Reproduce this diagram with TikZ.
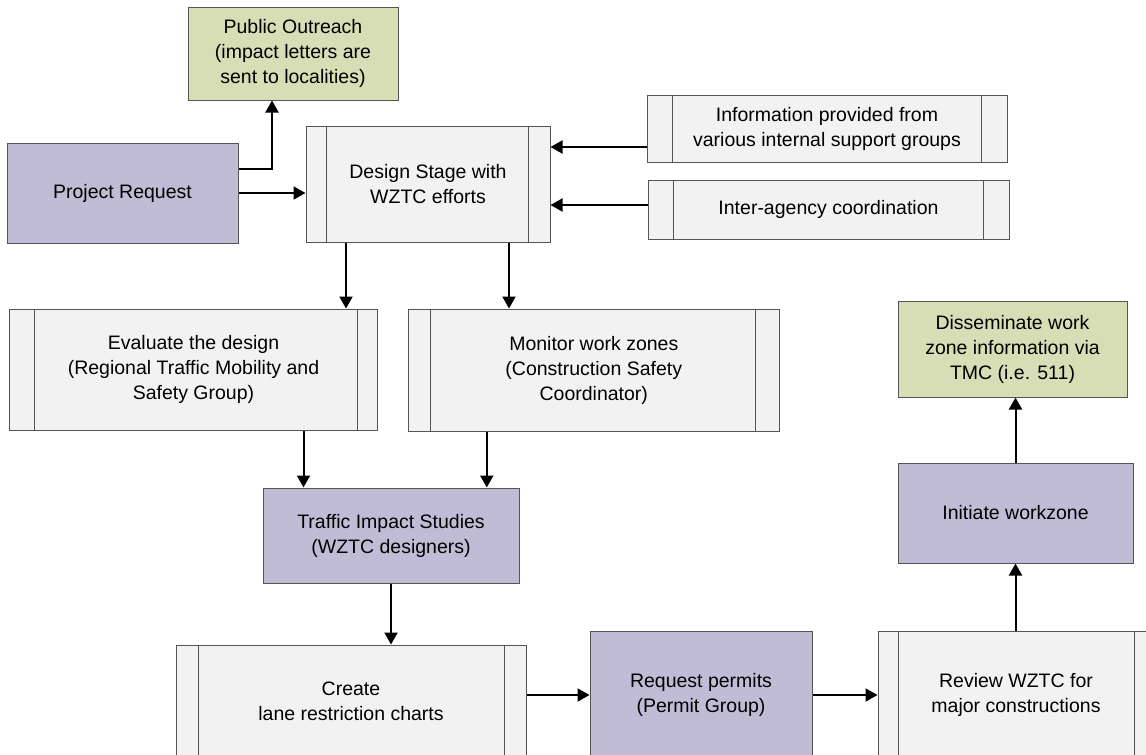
\documentclass[tikz,border=0pt]{standalone}
\usepackage{fontspec}
\setmainfont{Liberation Sans}
\usetikzlibrary{arrows.meta}
\definecolor{lav}{RGB}{192,188,214}
\definecolor{olive}{RGB}{215,222,182}
\definecolor{pale}{RGB}{242,242,242}
\definecolor{edge}{RGB}{85,85,85}
\tikzset{
  box/.style={draw=edge, line width=1pt, align=center, inner sep=0pt,
    font=\fontsize{19.5}{25}\selectfont},
  lavbox/.style={box, fill=lav},
  greenbox/.style={box, fill=olive},
  procbox/.style 2 args={box, fill=pale, path picture={
    \draw[edge, line width=1pt]
      ([xshift=#1]path picture bounding box.north west) -- ([xshift=#1]path picture bounding box.south west)
      ([xshift=-#2]path picture bounding box.north east) -- ([xshift=-#2]path picture bounding box.south east);}},
  flow/.style={line width=2pt, -{Triangle[length=12pt,width=13pt]}},
}
\begin{document}
\begin{tikzpicture}[x=1pt, y=-1pt]
\useasboundingbox (0,0) rectangle (1146,755);
\fill[white] (0,0) rectangle (1146,755);
\clip (0,0) rectangle (1146,755);

% boxes
\node[greenbox, minimum width=210pt, minimum height=93pt] (out) at (293,53.5)
  {Public Outreach\\(impact letters are\\sent to localities)};
\node[lavbox, minimum width=231pt, minimum height=100pt] (req) at (122.5,193)
  {Project Request};
\node[procbox={20pt}{22pt}, minimum width=244pt, minimum height=116pt] (des) at (428,184)
  {Design Stage with\\WZTC efforts};
\node[procbox={25.5pt}{25.5pt}, minimum width=360pt, minimum height=67pt] (info) at (827,128.5)
  {Information provided from\\various internal support groups};
\node[procbox={25pt}{26pt}, minimum width=361pt, minimum height=59pt] (inter) at (828.5,209.5)
  {Inter-agency coordination};
\node[procbox={25pt}{20pt}, minimum width=368pt, minimum height=121pt] (eval) at (193.5,369.5)
  {Evaluate the design\\(Regional Traffic Mobility and\\Safety Group)};
\node[procbox={22pt}{24pt}, minimum width=371pt, minimum height=122pt] (mon) at (593.8,370)
  {Monitor work zones\\(Construction Safety\\Coordinator)};
\node[greenbox, minimum width=229pt, minimum height=96pt] (dis) at (1012.5,349)
  {Disseminate work\\zone information via\\TMC (i.e. 511)};
\node[lavbox, minimum width=235pt, minimum height=100pt] (ini) at (1015.5,513)
  {Initiate workzone};
\node[lavbox, minimum width=256pt, minimum height=95pt] (tis) at (391,535.5)
  {Traffic Impact Studies\\(WZTC designers)};
\node[procbox={22pt}{22pt}, minimum width=350pt, minimum height=113pt] (cre) at (351,701.5)
  {Create\\lane restriction charts};
\node[lavbox, minimum width=222pt, minimum height=128pt] (per) at (701,695)
  {Request permits\\(Permit Group)};
\node[procbox={20pt}{20pt}, minimum width=276pt, minimum height=128pt] (rev) at (1016,695)
  {Review WZTC for\\major constructions};

% connectors
\draw[flow] ([yshift=24pt]req.east) -| ([xshift=-21pt]out.south);
\draw[flow] (req.east) -- (req.east -| des.west);
\draw[flow] ([yshift=-18.5pt]info.west) -- ([yshift=-18.5pt]info.west -| des.east);
\draw[flow] ([yshift=4.5pt]inter.west) -- ([yshift=4.5pt]inter.west -| des.east);
\draw[flow] ([xshift=-82pt]des.south) -- ([xshift=-82pt]des.south |- eval.north);
\draw[flow] ([xshift=81pt]des.south) -- ([xshift=81pt]des.south |- mon.north);
\draw[flow] ([xshift=110pt]eval.south) -- ([xshift=110pt]eval.south |- tis.north);
\draw[flow] ([xshift=-107pt]mon.south) -- ([xshift=-107pt]mon.south |- tis.north);
\draw[flow] (tis.south) -- (tis.south |- cre.north);
\draw[flow] (cre.east |- per.west) -- (per.west);
\draw[flow] (per.east) -- (per.east -| rev.west);
\draw[flow] (ini.south |- rev.north) -- (ini.south);
\draw[flow] (ini.north) -- (ini.north |- dis.south);
\end{tikzpicture}
\end{document}
